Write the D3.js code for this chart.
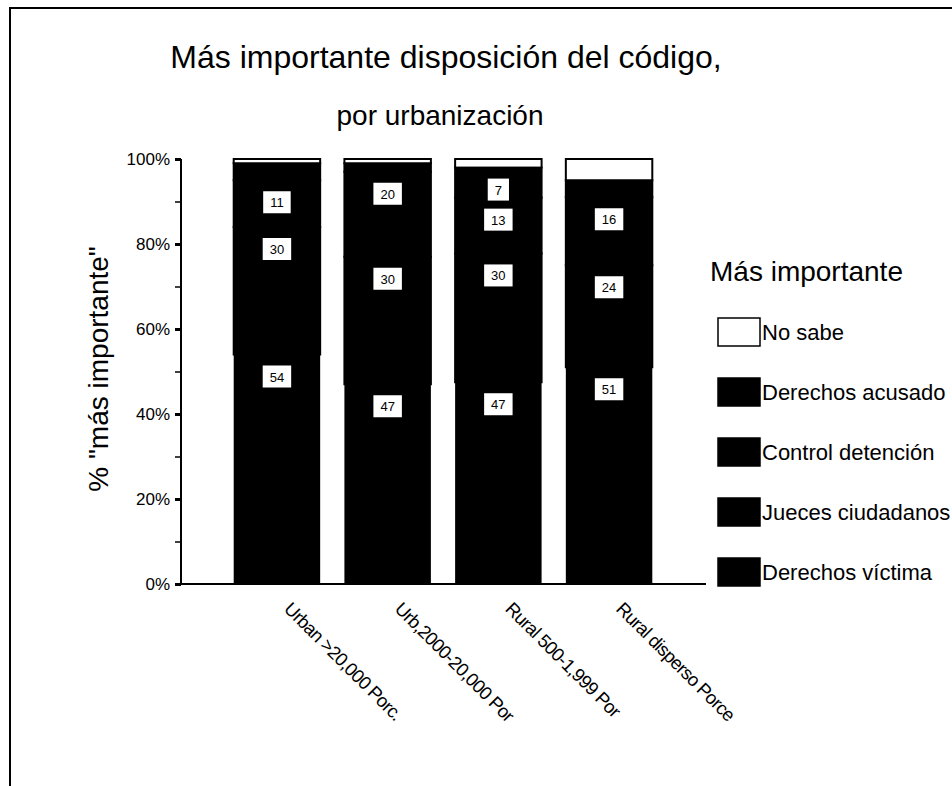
<!DOCTYPE html>
<html><head><meta charset="utf-8">
<script src="https://cdn.jsdelivr.net/npm/d3@7"></script>
<style>body{margin:0;background:#fff}text{font-family:"Liberation Sans",Arial,sans-serif;fill:#000}</style>
</head><body><svg id="c" width="952" height="786"></svg>
<script>
const categories = ["Urban >20,000 Porc.", "Urb,2000-20,000 Por", "Rural 500-1,999 Por", "Rural disperso Porce"];
const seriesNames = ["Derechos víctima", "Jueces ciudadanos", "Control detención", "Derechos acusado", "No sabe"];
const derechosVictima = [54, 47, 47, 51];
const juecesCiudadanos = [30, 30, 30, 24];
const controlDetencion = [11, 20, 13, 16];
const derechosAcusado = [4, 2, 7, 4];
const noSabe = [1, 1, 2, 5];
const yTicks = [0, 10, 20, 30, 40, 50, 60, 70, 80, 90, 100];
const yTickLabels = {0:"0%",20:"20%",40:"40%",60:"60%",80:"80%",100:"100%"};
const legendOrder = ["No sabe", "Derechos acusado", "Control detención", "Jueces ciudadanos", "Derechos víctima"];

const valuesBySeries = [derechosVictima, juecesCiudadanos, controlDetencion, derechosAcusado, noSabe];
const rows = categories.map((c, i) => {
  const r = {cat: c};
  seriesNames.forEach((s, k) => r[s] = valuesBySeries[k][i]);
  return r;
});
const stacked = d3.stack().keys(seriesNames).offset(d3.stackOffsetExpand)(rows);

const svg = d3.select("#c");
svg.append("rect").attr("width", 952).attr("height", 786).attr("fill", "#fff");
svg.append("rect").attr("x", 10).attr("y", 8).attr("width", 1200).attr("height", 1200)
  .attr("fill", "none").attr("stroke", "#000").attr("stroke-width", 2);

const y = d3.scaleLinear().domain([0, 1]).range([584, 159]);
const x = d3.scaleBand().domain(categories).range([181, 705]).paddingInner(0.219).paddingOuter(0.476);

// bars
stacked.forEach((layer, k) => {
  const g = svg.append("g");
  g.selectAll("rect").data(layer).join("rect")
    .attr("x", d => x(d.data.cat))
    .attr("width", x.bandwidth())
    .attr("y", d => y(d[1]))
    .attr("height", d => y(d[0]) - y(d[1]))
    .attr("fill", layer.key === "No sabe" ? "#fff" : "#000")
    .attr("stroke", k === 0 ? "none" : "#000")
    .attr("stroke-width", 2);
});
// data labels
stacked.forEach(layer => {
  if (layer.key === "No sabe") return;
  layer.forEach(d => {
    const v = d.data[layer.key];
    if (v < 5) return;
    const cx = x(d.data.cat) + x.bandwidth() / 2;
    const cy = y(d[1]) + 22;
    const t = svg.append("text").attr("x", cx).attr("y", cy + 5)
      .attr("text-anchor", "middle").attr("font-size", 13).text(v);
    const w = t.node().getComputedTextLength() + 14;
    svg.insert("rect", () => t.node()).attr("x", cx - w / 2).attr("y", cy - 11)
      .attr("width", w).attr("height", 22).attr("fill", "#fff");
  });
});

// y axis
const yAxis = svg.append("g").attr("transform", "translate(181,0)")
  .call(d3.axisLeft(d3.scaleLinear().domain([0, 100]).range([584, 159]))
    .tickValues(yTicks).tickSize(6).tickFormat(d => yTickLabels[d] || ""));
yAxis.select(".domain").attr("stroke-width", 2).attr("d", "M0,159V585");
yAxis.selectAll(".tick line").attr("stroke-width", d => d % 20 === 0 ? 3 : 1.5);
yAxis.selectAll(".tick text").attr("font-size", 17).attr("x", -11)
  .attr("font-family", "Liberation Sans, Arial, sans-serif");
// x axis line
svg.append("line").attr("x1", 180).attr("x2", 706).attr("y1", 584).attr("y2", 584)
  .attr("stroke", "#000").attr("stroke-width", 2);

// x labels
svg.append("g").selectAll("text").data(categories).join("text")
  .attr("transform", d => `translate(${x(d) + x.bandwidth() / 2 + 6},610) rotate(45)`)
  .attr("font-size", 18.5).attr("letter-spacing", -0.7).text(d => d);

// titles
svg.append("text").attr("x", 446).attr("y", 68).attr("text-anchor", "middle")
  .attr("font-size", 32).text("Más importante disposición del código,");
svg.append("text").attr("x", 440).attr("y", 125).attr("text-anchor", "middle")
  .attr("font-size", 28).text("por urbanización");
svg.append("text").attr("transform", "translate(108,369) rotate(-90)").attr("text-anchor", "middle")
  .attr("font-size", 28).text('%  "más importante"');

// legend
svg.append("text").attr("x", 710).attr("y", 281).attr("font-size", 28).text("Más importante");
const lg = svg.append("g").selectAll("g").data(legendOrder).join("g")
  .attr("transform", (d, i) => `translate(718,${332 + 60 * i})`);
lg.append("rect").attr("x", 0).attr("y", -14).attr("width", 42).attr("height", 28)
  .attr("fill", d => d === "No sabe" ? "#fff" : "#000").attr("stroke", "#000").attr("stroke-width", 1.5);
lg.append("text").attr("x", 44).attr("y", 8).attr("font-size", 22).text(d => d);
</script></body></html>
